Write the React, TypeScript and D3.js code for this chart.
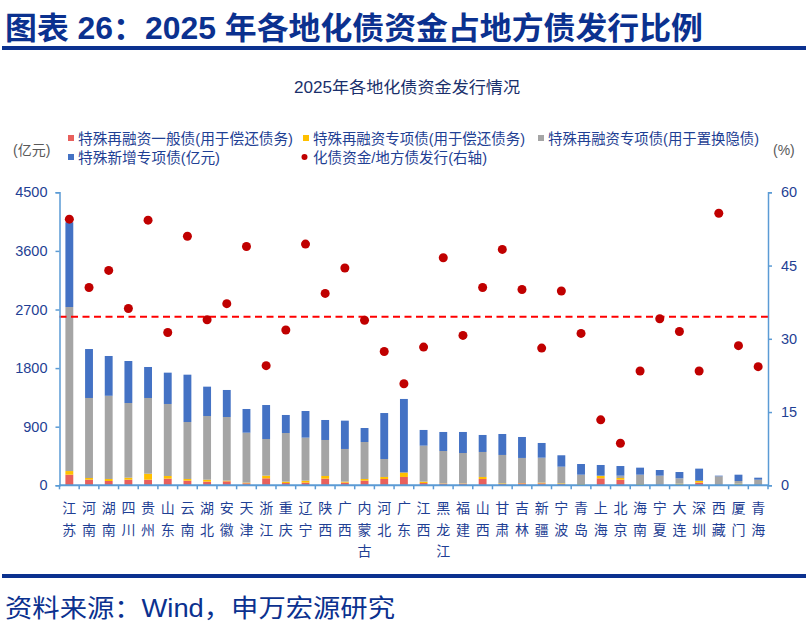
import React, { useEffect, useRef } from "react";
import * as d3 from "d3";

// 地区（按化债资金规模排序）
const regions = [
  "江苏", "河南", "湖南", "四川", "贵州", "山东", "云南", "湖北", "安徽", "天津",
  "浙江", "重庆", "辽宁", "陕西", "广西", "内蒙古", "河北", "广东", "江西", "黑龙江",
  "福建", "山西", "甘肃", "吉林", "新疆", "宁波", "青岛", "上海", "北京", "海南",
  "宁夏", "大连", "深圳", "西藏", "厦门", "青海",
];

// 亿元
const generalRefi = [
  163, 86, 66, 86, 86, 102, 71, 56, 61, 31, 107, 35, 41, 102, 41, 71, 97, 128,
  35, 25, 25, 97, 20, 30, 30, 20, 0, 107, 86, 0, 0, 0, 41, 0, 0, 0,
];
const specialRefiRepay = [
  56, 26, 31, 31, 92, 41, 26, 30, 10, 10, 41, 21, 30, 41, 15, 26, 31, 61,
  21, 5, 5, 31, 10, 5, 11, 10, 20, 36, 26, 20, 0, 25, 25, 0, 25, 0,
];
const specialRefiSwap = [
  2519, 1229, 1278, 1147, 1163, 1106, 875, 978, 978, 767, 563, 747, 661, 553, 502, 568, 276, 15,
  553, 497, 466, 384, 436, 385, 383, 256, 143, 5, 36, 143, 148, 82, 5, 138, 41, 86,
];
const newSpecial = [
  1302, 752, 611, 645, 476, 481, 727, 451, 415, 364, 522, 277, 409, 307, 435, 215, 706, 1122,
  241, 292, 323, 261, 322, 322, 226, 175, 164, 164, 148, 108, 87, 97, 185, 10, 97, 31,
];
// %，右轴
const ratio = [
  54.5, 40.5, 44.0, 36.2, 54.3, 31.3, 51.0, 33.9, 37.2, 48.9, 24.5, 31.8, 49.4, 39.3, 44.5, 33.8, 27.4, 20.8,
  28.3, 46.6, 30.7, 40.5, 48.3, 40.1, 28.1, 39.8, 31.1, 13.4, 8.6, 23.4, 34.1, 31.5, 23.4, 55.7, 28.6, 24.3,
];
const avgRatio = 34.5;

const leftTicks = [0, 900, 1800, 2700, 3600, 4500];
const rightTicks = [0, 15, 30, 45, 60];

const seriesKeys = ["generalRefi", "specialRefiRepay", "specialRefiSwap", "newSpecial"];
const seriesColors = ["#E8605C", "#FFC000", "#A5A5A5", "#4472C4"];
const legendRow1 = [
  "特殊再融资一般债(用于偿还债务)",
  "特殊再融资专项债(用于偿还债务)",
  "特殊再融资专项债(用于置换隐债)",
];
const legendRow2 = ["特殊新增专项债(亿元)", "化债资金/地方债发行(右轴)"];

const W = 806;
const H = 625;
const NAVY = "#0B318F";
const TEXT_BLUE = "#1F3F94";
const AXIS_BLUE = "#5B9BD5";
const FONT = "'Liberation Sans', 'Noto Sans CJK SC', sans-serif";

const App = () => {
  const svgRef = useRef<SVGSVGElement | null>(null);

  useEffect(() => {
    const svg = d3.select(svgRef.current);
    svg.selectAll("*").remove();

    const left = 59.5;
    const right = 768;
    const top = 192.3;
    const bottom = 485.3;

    svg.append("rect").attr("width", W).attr("height", H).attr("fill", "#fff");

    // 标题
    svg
      .append("text")
      .attr("x", 5)
      .attr("y", 39)
      .attr("textLength", 698)
      .attr("lengthAdjust", "spacingAndGlyphs")
      .style("font-family", FONT)
      .style("font-size", "31px")
      .style("font-weight", "bold")
      .attr("fill", NAVY)
      .text("图表 26：2025 年各地化债资金占地方债发行比例");
    svg.append("rect").attr("x", 2).attr("y", 46).attr("width", W - 2).attr("height", 4).attr("fill", NAVY);

    // 图内标题
    svg
      .append("text")
      .attr("x", 294)
      .attr("y", 93)
      .attr("textLength", 226)
      .attr("lengthAdjust", "spacingAndGlyphs")
      .style("font-family", FONT)
      .style("font-size", "16px")
      .attr("fill", "#1A2F6B")
      .text("2025年各地化债资金发行情况");

    // 图例
    const legendFont = (sel: any) =>
      sel.style("font-family", FONT).style("font-size", "15px").attr("fill", TEXT_BLUE);
    const row1X = [68, 303, 538];
    const row1W = [215, 212, 211];
    legendRow1.forEach((t, i) => {
      svg.append("rect").attr("x", row1X[i]).attr("y", 135).attr("width", 6).attr("height", 6).attr("fill", seriesColors[i]);
      legendFont(
        svg.append("text").attr("x", row1X[i] + 10).attr("y", 144).attr("textLength", row1W[i]).attr("lengthAdjust", "spacingAndGlyphs")
      ).text(t);
    });
    svg.append("rect").attr("x", 68).attr("y", 154).attr("width", 6).attr("height", 6).attr("fill", seriesColors[3]);
    legendFont(
      svg.append("text").attr("x", 78).attr("y", 163).attr("textLength", 142).attr("lengthAdjust", "spacingAndGlyphs")
    ).text(legendRow2[0]);
    svg.append("circle").attr("cx", 304.5).attr("cy", 157).attr("r", 3).attr("fill", "#C00000");
    legendFont(
      svg.append("text").attr("x", 313).attr("y", 163).attr("textLength", 174).attr("lengthAdjust", "spacingAndGlyphs")
    ).text(legendRow2[1]);

    svg
      .append("text")
      .attr("x", 13)
      .attr("y", 155)
      .style("font-family", FONT)
      .style("font-size", "14px")
      .attr("fill", "#595959")
      .text("(亿元)");
    svg
      .append("text")
      .attr("x", 773)
      .attr("y", 155)
      .style("font-family", FONT)
      .style("font-size", "14px")
      .attr("fill", "#595959")
      .text("(%)");

    // 比例尺
    const x = d3.scaleBand<string>().domain(regions).range([left, right]).paddingInner(0.6).paddingOuter(0.3);
    const y = d3.scaleLinear().domain([0, 4500]).range([bottom, top]);
    const y2 = d3.scaleLinear().domain([0, 60]).range([bottom, top]);

    const rows = regions.map((r, i) => ({
      region: r,
      generalRefi: generalRefi[i],
      specialRefiRepay: specialRefiRepay[i],
      specialRefiSwap: specialRefiSwap[i],
      newSpecial: newSpecial[i],
    }));
    const stacked = d3.stack<any>().keys(seriesKeys)(rows);

    svg
      .append("g")
      .selectAll("g")
      .data(stacked)
      .join("g")
      .attr("fill", (_d, i) => seriesColors[i])
      .selectAll("rect")
      .data((d) => d)
      .join("rect")
      .attr("x", (d: any) => x(d.data.region) as number)
      .attr("width", x.bandwidth())
      .attr("y", (d) => y(d[1]))
      .attr("height", (d) => Math.max(0, y(d[0]) - y(d[1])));

    // 平均线
    svg
      .append("line")
      .attr("x1", left)
      .attr("x2", right)
      .attr("y1", y2(avgRatio))
      .attr("y2", y2(avgRatio))
      .attr("stroke", "#FF0000")
      .attr("stroke-width", 2)
      .attr("stroke-dasharray", "7,4.5");

    // 散点
    svg
      .append("g")
      .selectAll("circle")
      .data(ratio)
      .join("circle")
      .attr("cx", (_d, i) => (x(regions[i]) as number) + x.bandwidth() / 2)
      .attr("cy", (d) => y2(d))
      .attr("r", 4.5)
      .attr("fill", "#C00000");

    // 左轴
    const gl = svg
      .append("g")
      .attr("transform", `translate(${left},0)`)
      .call(d3.axisLeft(y).tickValues(leftTicks).tickFormat(d3.format("d")).tickSize(4).tickPadding(8));
    gl.selectAll("path, line").attr("stroke", AXIS_BLUE).attr("stroke-width", 1.5);
    gl.selectAll("text").style("font-family", FONT).style("font-size", "14.5px").attr("fill", TEXT_BLUE);

    // 右轴
    const gr = svg
      .append("g")
      .attr("transform", `translate(${right},0)`)
      .call(d3.axisRight(y2).tickValues(rightTicks).tickFormat(d3.format("d")).tickSize(4).tickPadding(9));
    gr.selectAll("path, line").attr("stroke", AXIS_BLUE).attr("stroke-width", 1.5);
    gr.selectAll("text").style("font-family", FONT).style("font-size", "14.5px").attr("fill", TEXT_BLUE);

    // 横轴
    const step = x.step();
    const gx = svg.append("g");
    gx.append("line")
      .attr("x1", left)
      .attr("x2", right)
      .attr("y1", bottom)
      .attr("y2", bottom)
      .attr("stroke", AXIS_BLUE)
      .attr("stroke-width", 2);
    gx.selectAll("line.tick")
      .data(d3.range(regions.length + 1))
      .join("line")
      .attr("class", "tick")
      .attr("x1", (i) => left + i * step)
      .attr("x2", (i) => left + i * step)
      .attr("y1", bottom)
      .attr("y2", bottom + 4)
      .attr("stroke", AXIS_BLUE)
      .attr("stroke-width", 1.5);

    const labels = gx
      .selectAll("text")
      .data(regions)
      .join("text")
      .attr("text-anchor", "middle")
      .style("font-family", FONT)
      .style("font-size", "14px")
      .attr("fill", TEXT_BLUE);
    labels.each(function (d) {
      const t = d3.select(this);
      const cx = (x(d) as number) + x.bandwidth() / 2;
      Array.from(d).forEach((ch, k) => {
        t.append("tspan").attr("x", cx).attr("y", 513 + k * 21.7).text(ch);
      });
    });

    // 来源
    svg.append("rect").attr("x", 2).attr("y", 574).attr("width", W - 2).attr("height", 4).attr("fill", NAVY);
    svg
      .append("text")
      .attr("x", 5)
      .attr("y", 617)
      .attr("textLength", 390)
      .attr("lengthAdjust", "spacingAndGlyphs")
      .style("font-family", FONT)
      .style("font-size", "25px")
      .attr("fill", NAVY)
      .text("资料来源：Wind，申万宏源研究");
  }, []);

  return (
    <svg
      ref={svgRef}
      width={W}
      height={H}
      style={{ position: "absolute", left: 0, top: 0, display: "block" }}
    ></svg>
  );
};

export default App;
